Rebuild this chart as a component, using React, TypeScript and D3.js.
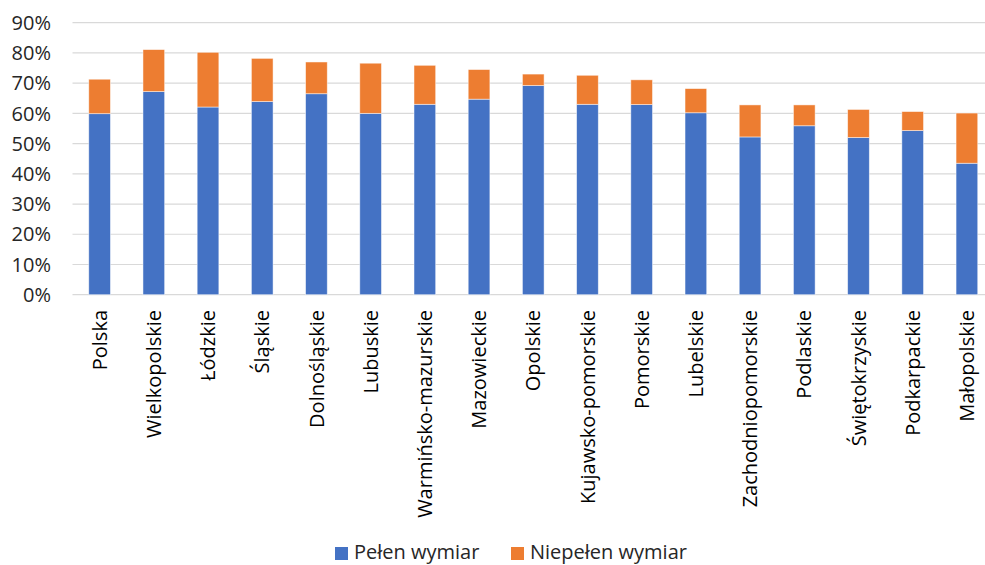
import React, { useEffect, useRef } from 'react';
import * as d3 from 'd3';

const regions = [
  'Polska', 'Wielkopolskie', 'Łódzkie', 'Śląskie', 'Dolnośląskie', 'Lubuskie',
  'Warmińsko-mazurskie', 'Mazowieckie', 'Opolskie', 'Kujawsko-pomorskie', 'Pomorskie',
  'Lubelskie', 'Zachodniopomorskie', 'Podlaskie', 'Świętokrzyskie', 'Podkarpackie', 'Małopolskie',
];
// share of employed, in %
const fullTime = [59.9, 67.2, 62.1, 63.9, 66.5, 60.0, 63.0, 64.7, 69.2, 63.0, 62.9, 60.2, 52.2, 55.9, 52.0, 54.3, 43.5];
const partTime = [11.4, 13.9, 18.1, 14.3, 10.5, 16.6, 12.9, 9.8, 3.8, 9.6, 8.2, 8.0, 10.6, 6.9, 9.3, 6.3, 16.6];
const yTicks = [0, 10, 20, 30, 40, 50, 60, 70, 80, 90];
const seriesNames = ['Pełen wymiar', 'Niepełen wymiar'];
const colors = ['#4472c4', '#ed7d31'];

const W = 985;
const H = 565;
const FONT = '"Open Sans", sans-serif';

const App = () => {
  const svgRef = useRef<SVGSVGElement>(null);

  useEffect(() => {
    if (!svgRef.current) return;
    const svg = d3.select(svgRef.current);
    svg.selectAll('*').remove();

    const left = 72.5;
    const right = 994;
    const top = 22.7;
    const bottom = 294.7;

    const x = d3.scaleBand<string>().domain(regions).range([left, right]).paddingInner(0.6).paddingOuter(0.3);
    const y = d3.scaleLinear().domain([0, 90]).range([bottom, top]);

    // gridlines
    svg.append('g')
      .selectAll('line')
      .data(yTicks)
      .enter()
      .append('line')
      .attr('x1', left)
      .attr('x2', W)
      .attr('y1', d => y(d))
      .attr('y2', d => y(d))
      .attr('stroke', '#d9d9d9')
      .attr('stroke-width', 1.2);

    svg.append('g')
      .selectAll('text')
      .data(yTicks)
      .enter()
      .append('text')
      .attr('x', 51)
      .attr('y', d => y(d))
      .attr('dy', '0.36em')
      .attr('text-anchor', 'end')
      .attr('font-family', FONT)
      .attr('font-size', 20)
      .attr('fill', '#262626')
      .text(d => `${d}%`);

    const rows = regions.map((r, i) => ({ region: r, full: fullTime[i], part: partTime[i] }));
    const stacked = d3.stack<any>().keys(['full', 'part'])(rows);

    stacked.forEach((layer, k) => {
      svg.append('g')
        .selectAll('rect')
        .data(layer)
        .enter()
        .append('rect')
        .attr('x', d => x(d.data.region)!)
        .attr('width', x.bandwidth())
        .attr('y', d => y(d[1]))
        .attr('height', d => y(d[0]) - y(d[1]))
        .attr('fill', colors[k])
        .attr('stroke', '#ffffff')
        .attr('stroke-opacity', 0.6)
        .attr('stroke-width', 0.8);
    });

    // category labels
    svg.append('g')
      .selectAll('text')
      .data(regions)
      .enter()
      .append('text')
      .attr('transform', d => `translate(${x(d)! + x.bandwidth() / 2},${310})rotate(-90)`)
      .attr('text-anchor', 'end')
      .attr('dy', '0.36em')
      .attr('font-family', FONT)
      .attr('font-size', 20)
      .attr('fill', '#000')
      .text(d => d);

    // legend
    const legendX = [335, 511];
    const leg = svg.append('g');
    seriesNames.forEach((name, i) => {
      leg.append('rect')
        .attr('x', legendX[i])
        .attr('y', 547)
        .attr('width', 13)
        .attr('height', 13)
        .attr('fill', colors[i]);
      leg.append('text')
        .attr('x', legendX[i] + 19)
        .attr('y', 559)
        .attr('font-family', FONT)
        .attr('font-size', 20)
        .attr('fill', '#262626')
        .text(name);
    });
  }, []);

  return (
    <svg
      ref={svgRef}
      width={W}
      height={H}
      style={{ position: 'absolute', left: 0, top: 0, background: '#fff' }}
    />
  );
};

export default App;
